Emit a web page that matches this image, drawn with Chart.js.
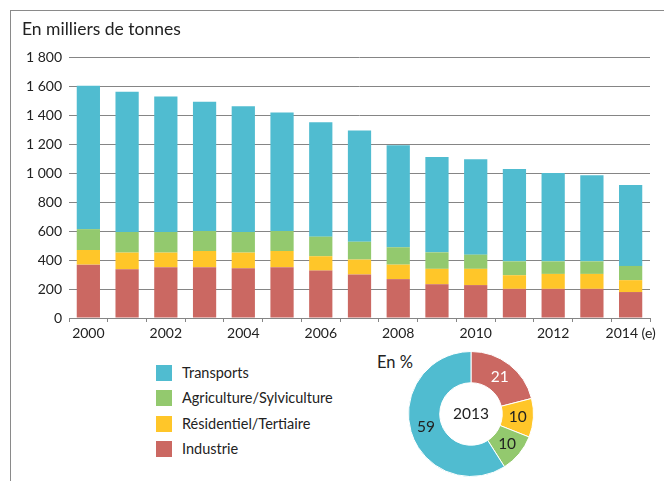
<!DOCTYPE html>
<html lang="fr">
<head>
<meta charset="utf-8">
<script src="https://cdn.jsdelivr.net/npm/chart.js@4.4.1/dist/chart.umd.min.js"></script>
<style>
  body { margin: 0; background: #fff; font-family: Lato, sans-serif; color: #222; }
  #page { position: relative; width: 664px; height: 481px; overflow: hidden; }
  #frame { position: absolute; left: 10px; top: 10px; width: 670px; height: 490px;
           border-top: 1.5px solid #8a8a8a; border-left: 1.5px solid #8a8a8a; }
  #barWrap { position: absolute; left: 0; top: 0; width: 664px; height: 345px; }
  #legend { position: absolute; left: 156px; top: 365px; }
  .item { height: 25.4px; display: flex; align-items: flex-start; }
  .sw { width: 16px; height: 16px; margin-right: 10px; flex: none; }
  .lbl { font-size: 14.5px; line-height: 16px; color: #222; }
  #enpct { position: absolute; left: 377px; top: 352px; font-size: 16.5px; color: #222; }
  #pieWrap { position: absolute; left: 406px; top: 349px; width: 130px; height: 130px; }
</style>
</head>
<body>
<div id="page">
  <div id="frame"></div>
  <div id="barWrap"><canvas id="bars"></canvas></div>
  <div id="legend"></div>
  <div id="enpct">En %</div>
  <div id="pieWrap"><canvas id="pie"></canvas></div>
</div>
<script>
// années (la dernière est une estimation)
var years = ["2000", "2001", "2002", "2003", "2004", "2005", "2006", "2007",
             "2008", "2009", "2010", "2011", "2012", "2013", "2014 (e)"];

// émissions en milliers de tonnes
var industrie    = [368, 336, 350, 350, 343, 350, 327, 300, 268, 233, 227, 201, 201, 201, 179];
var residentiel  = [101, 115, 101, 112, 108, 112, 99, 103, 100, 106, 112, 94, 103, 103, 82];
var agriculture  = [144, 142, 142, 138, 142, 138, 135, 123, 120, 114, 98, 96, 87, 87, 98];
var transports   = [989, 968, 934, 892, 867, 817, 789, 767, 704, 657, 657, 637, 609, 593, 559];

var yTicksMax = 1800;
var yTicksStep = 200;

// répartition 2013 en %
var pieYear = "2013";
var pieLabels = ["Industrie", "Résidentiel/Tertiaire", "Agriculture/Sylviculture", "Transports"];
var pieValues = [21, 10, 10, 59];

var colors = {
  transports: "#50bcd0",
  agriculture: "#93c96e",
  residentiel: "#ffc629",
  industrie: "#cb6862"
};

// légende (ordre du haut vers le bas)
var legendItems = [
  ["Transports", colors.transports],
  ["Agriculture/Sylviculture", colors.agriculture],
  ["Résidentiel/Tertiaire", colors.residentiel],
  ["Industrie", colors.industrie]
];
var legendEl = document.getElementById("legend");
legendItems.forEach(function (it) {
  var row = document.createElement("div");
  row.className = "item";
  row.innerHTML = '<span class="sw" style="background:' + it[1] + '"></span><span class="lbl">' + it[0] + "</span>";
  legendEl.appendChild(row);
});

function fmt(v) {
  return String(v).replace(/\B(?=(\d{3})+(?!\d))/g, " ");
}

function barSet(label, data, color) {
  return {
    label: label,
    data: data,
    backgroundColor: color,
    borderWidth: 0,
    barPercentage: 0.6,
    categoryPercentage: 1.0
  };
}

var gridGrey = "#858585";

new Chart(document.getElementById("bars"), {
  type: "bar",
  data: {
    labels: years,
    datasets: [
      barSet("Industrie", industrie, colors.industrie),
      barSet("Résidentiel/Tertiaire", residentiel, colors.residentiel),
      barSet("Agriculture/Sylviculture", agriculture, colors.agriculture),
      barSet("Transports", transports, colors.transports)
    ]
  },
  options: {
    responsive: true,
    maintainAspectRatio: false,
    animation: false,
    layout: { padding: { left: 22, right: 14, top: 19, bottom: 0 } },
    plugins: {
      legend: { display: false },
      tooltip: { enabled: false },
      title: {
        display: true,
        text: "En milliers de tonnes",
        align: "start",
        color: "#222",
        font: { family: "Lato", size: 17.5, weight: "normal", lineHeight: 1.2 },
        padding: { top: 0, bottom: 17 }
      }
    },
    scales: {
      x: {
        stacked: true,
        afterFit: function (scale) { scale.height = 27; },
        grid: { offset: true, drawOnChartArea: false, drawTicks: true, tickLength: 4, color: gridGrey },
        border: { display: true, color: gridGrey },
        ticks: {
          autoSkip: false,
          maxRotation: 0,
          padding: 3,
          color: "#222",
          font: { family: "Lato", size: 14 },
          callback: function (v, i) { return i % 2 === 0 ? years[i] : ""; }
        }
      },
      y: {
        stacked: true,
        min: 0,
        max: yTicksMax,
        afterFit: function (scale) { scale.width = 47; },
        border: { display: false },
        grid: { color: gridGrey, lineWidth: 1, drawTicks: false },
        ticks: {
          stepSize: yTicksStep,
          padding: 7,
          color: "#222",
          font: { family: "Lato", size: 14 },
          callback: function (v) { return fmt(v); }
        }
      }
    }
  }
});

// étiquettes du camembert + année au centre
var donutLabels = {
  id: "donutLabels",
  afterDatasetsDraw: function (chart) {
    var ctx = chart.ctx;
    var meta = chart.getDatasetMeta(0);
    ctx.save();
    ctx.font = "15.5px Lato";
    ctx.textAlign = "center";
    ctx.textBaseline = "middle";
    meta.data.forEach(function (arc, i) {
      var p = arc.getCenterPoint();
      ctx.fillStyle = i === 0 ? "#fff" : "#222";
      ctx.fillText(String(pieValues[i]), p.x, p.y);
    });
    var c = meta.data[0];
    ctx.fillStyle = "#222";
    ctx.fillText(pieYear, c.x, c.y);
    ctx.restore();
  }
};

new Chart(document.getElementById("pie"), {
  type: "doughnut",
  data: {
    labels: pieLabels,
    datasets: [{
      data: pieValues,
      backgroundColor: [colors.industrie, colors.residentiel, colors.agriculture, colors.transports],
      borderColor: "#fff",
      borderWidth: 1,
      hoverOffset: 0
    }]
  },
  options: {
    responsive: true,
    maintainAspectRatio: false,
    animation: false,
    cutout: "50%",
    layout: { padding: 2 },
    plugins: { legend: { display: false }, tooltip: { enabled: false } }
  },
  plugins: [donutLabels]
});
</script>
</body>
</html>
